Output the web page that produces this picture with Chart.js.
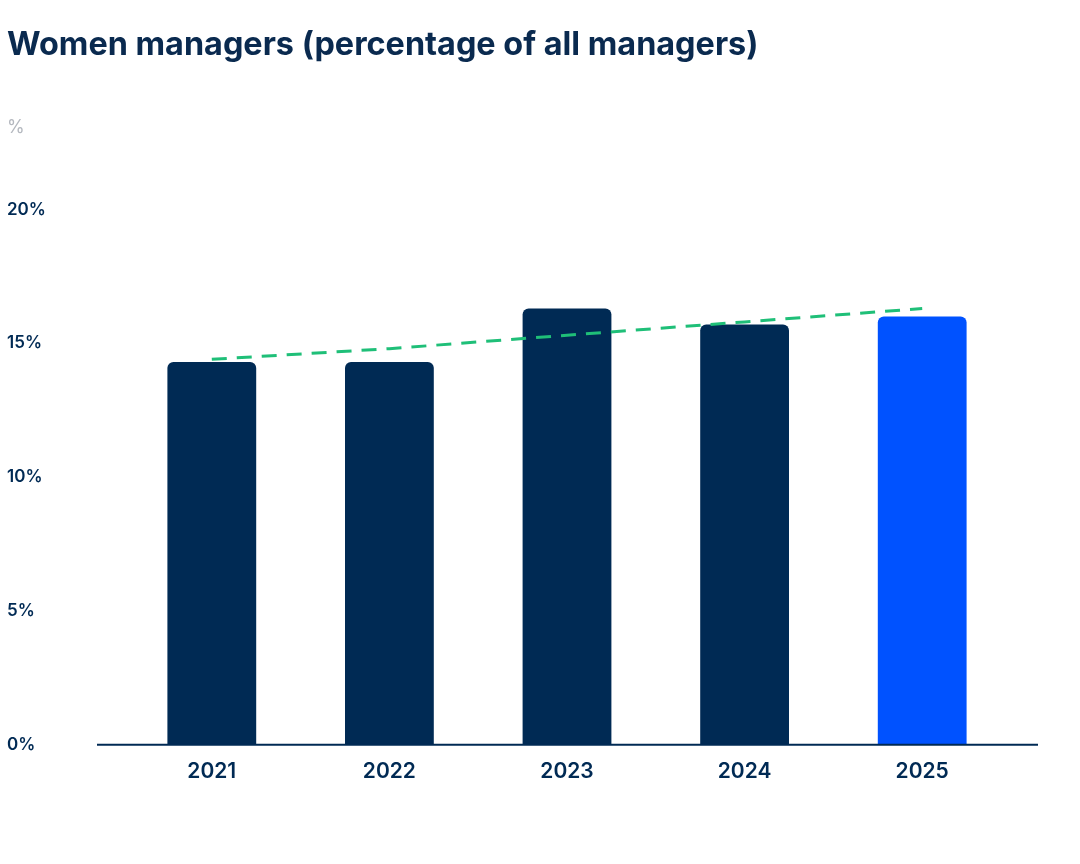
<!DOCTYPE html>
<html>
<head>
<meta charset="utf-8">
<script src="https://cdn.jsdelivr.net/npm/chart.js@4"></script>
<style>
  html, body { margin: 0; padding: 0; background: #fff; }
  #wrap { width: 1080px; height: 864px; }
</style>
</head>
<body>
<div id="wrap"><canvas id="managersChart" width="1080" height="864"></canvas></div>
<script>
// values
const years = ['2021', '2022', '2023', '2024', '2025'];
const womenShare = [14.3, 14.3, 16.3, 15.7, 16.0];
const trendShare = [14.4, 14.8, 15.3, 15.8, 16.3];
const yTicks = [0, 5, 10, 15, 20];

const navy = '#002a54';
const barColors = ['#002a54', '#002a54', '#002a54', '#002a54', '#0052ff'];

// x axis base line runs a bit past the bars on both sides
const baseLine = {
    id: 'baseLine',
    afterDatasetsDraw(chart) {
        const { ctx, chartArea, scales } = chart;
        const y = scales.y.getPixelForValue(0);
        ctx.save();
        ctx.strokeStyle = navy;
        ctx.lineWidth = 2;
        ctx.beginPath();
        ctx.moveTo(chartArea.left - 26, y);
        ctx.lineTo(chartArea.right + 27, y);
        ctx.stroke();
        ctx.restore();
    }
};

const ctx = document.getElementById('managersChart').getContext('2d');

const managersChart = new Chart(ctx, {
    type: 'bar',
    data: {
        labels: years,
        datasets: [{
            type: 'line',
            label: 'Trend',
            data: trendShare,
            borderColor: '#1fbf78',
            borderWidth: 3,
            borderDash: [15, 10],
            pointRadius: 0,
            fill: false,
            order: 0
        }, {
            label: 'Women managers',
            data: womenShare,
            backgroundColor: barColors,
            borderRadius: { topLeft: 6, topRight: 6 },
            borderSkipped: false,
            barPercentage: 0.5,
            categoryPercentage: 1,
            order: 1
        }]
    },
    options: {
        responsive: false,
        animation: false,
        layout: {
            padding: { left: 7, right: 69, top: 26, bottom: 74 }
        },
        plugins: {
            legend: { display: false },
            tooltip: { enabled: false },
            title: {
                display: true,
                text: 'Women managers (percentage of all managers)',
                align: 'start',
                color: '#0a2a4f',
                font: { family: 'Inter', size: 32.4, weight: 'bold' },
                padding: { top: 0, bottom: 52 }
            },
            subtitle: {
                display: true,
                text: '%',
                align: 'start',
                color: '#b4b8bf',
                font: { family: 'Inter', size: 18 },
                padding: { top: 0, bottom: 71 }
            }
        },
        scales: {
            x: {
                grid: { display: false },
                border: { display: false },
                ticks: {
                    color: navy,
                    padding: 6,
                    font: { family: 'Inter', size: 21, weight: '600' }
                }
            },
            y: {
                min: 0,
                max: 20,
                grid: { display: false },
                border: { display: false },
                afterFit(axis) { axis.width = 116; },
                afterBuildTicks(axis) { axis.ticks = yTicks.map(v => ({ value: v })); },
                ticks: {
                    crossAlign: 'far',
                    color: navy,
                    padding: 0,
                    font: { family: 'Inter', size: 17, weight: '600' },
                    callback: v => v + '%'
                }
            }
        }
    },
    plugins: [baseLine]
});
</script>
</body>
</html>
